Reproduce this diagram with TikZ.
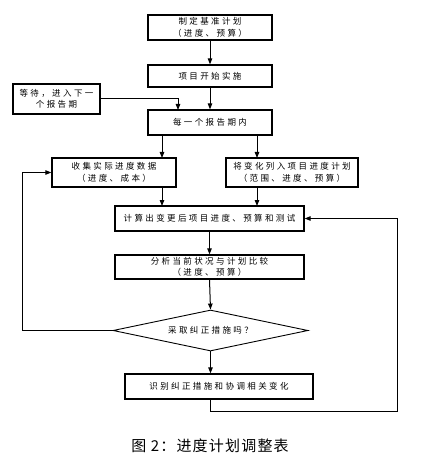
\documentclass[tikz,border=0pt]{standalone}
\usepackage{fontspec}
\usetikzlibrary{arrows.meta,shapes.geometric}
\newfontfamily\cjkbox[LetterSpace=28]{Noto Sans CJK SC}
\newfontfamily\cjkcap[LetterSpace=8]{Noto Sans CJK SC}
\begin{document}
\begin{tikzpicture}[x=1pt,y=-1pt,
  box/.style={draw, line width=1.3pt, inner sep=0pt, align=center,
    font=\cjkbox\fontsize{8.5}{11.5}\selectfont},
  dia/.style={draw, shape=diamond, line width=0.9pt, inner sep=0pt, aspect=4.75,
    font=\cjkbox\fontsize{8.5}{11.5}\selectfont},
  conn/.style={line width=1pt},
  arr/.style={conn, -{Triangle[length=6pt,width=4.5pt]}}]
\useasboundingbox (0,0) rectangle (436,462);
% boxes
\node[box, minimum width=124pt, minimum height=25pt] (b1) at (210,27.5) {制定基准计划\\（进度、预算）};
\node[box, minimum width=124pt, minimum height=22pt] (b2) at (210,76) {项目开始实施};
\node[box, minimum width=87pt, minimum height=30pt] (wait) at (56.5,99) {等待，进入下一\\个报告期};
\node[box, minimum width=124pt, minimum height=25pt] (b3) at (210,122.5) {每一个报告期内};
\node[box, minimum width=124pt, minimum height=29pt] (collect) at (114,172.5) {收集实际进度数据\\（进度、成本）};
\node[box, minimum width=132pt, minimum height=29pt] (change) at (292,172.5) {将变化列入项目进度计划\\（范围、进度、预算）};
\node[box, minimum width=189pt, minimum height=25pt] (calc) at (209.5,218.5) {计算出变更后项目进度、预算和测试};
\node[box, minimum width=189pt, minimum height=24pt] (ana) at (209.5,267) {分析当前状况与计划比较\\（进度、预算）};
\node[dia, minimum width=195pt, minimum height=41pt] (dec) at (210.5,330.5) {采取纠正措施吗？};
\node[box, minimum width=188pt, minimum height=25pt] (fix) at (219,386.5) {识别纠正措施和协调相关变化};
\node[font=\cjkcap\fontsize{15}{18}\selectfont] (cap) at (210,446) {图 2：进度计划调整表};
% helper coordinates
\coordinate (j1) at (178,110);
\coordinate (l1) at (162,135);
\coordinate (l2) at (162,158);
\coordinate (r1) at (257,135);
\coordinate (r2) at (257,158);
\coordinate (l3) at (162,187);
\coordinate (l4) at (162,206);
\coordinate (r3) at (257,187);
\coordinate (r4) at (257,206);
\coordinate (left) at (22,330.5);
\coordinate (fb) at (210,399);
\coordinate (fbot) at (210,411);
\coordinate (right) at (397,411);
% connectors
\draw[arr] (b1.south) -- (b2.north);
\draw[arr] (b2.south) -- (b3.north);
\draw[arr] (wait.east) -| (j1);
\draw[arr] (l1) -- (l2);
\draw[arr] (r1) -- (r2);
\draw[arr] (l3) -- (l4);
\draw[arr] (r3) -- (r4);
\draw[arr] (calc.south) -- (ana.north);
\draw[arr] (ana.south) -- (dec.north);
\draw[arr] (dec.south) -- (dec.south |- fix.north);
\draw[arr] (dec.west) -- (left) |- (collect.west);
\draw[arr] (fb) -- (fbot) -- (right) |- (calc.east);
\end{tikzpicture}
\end{document}
